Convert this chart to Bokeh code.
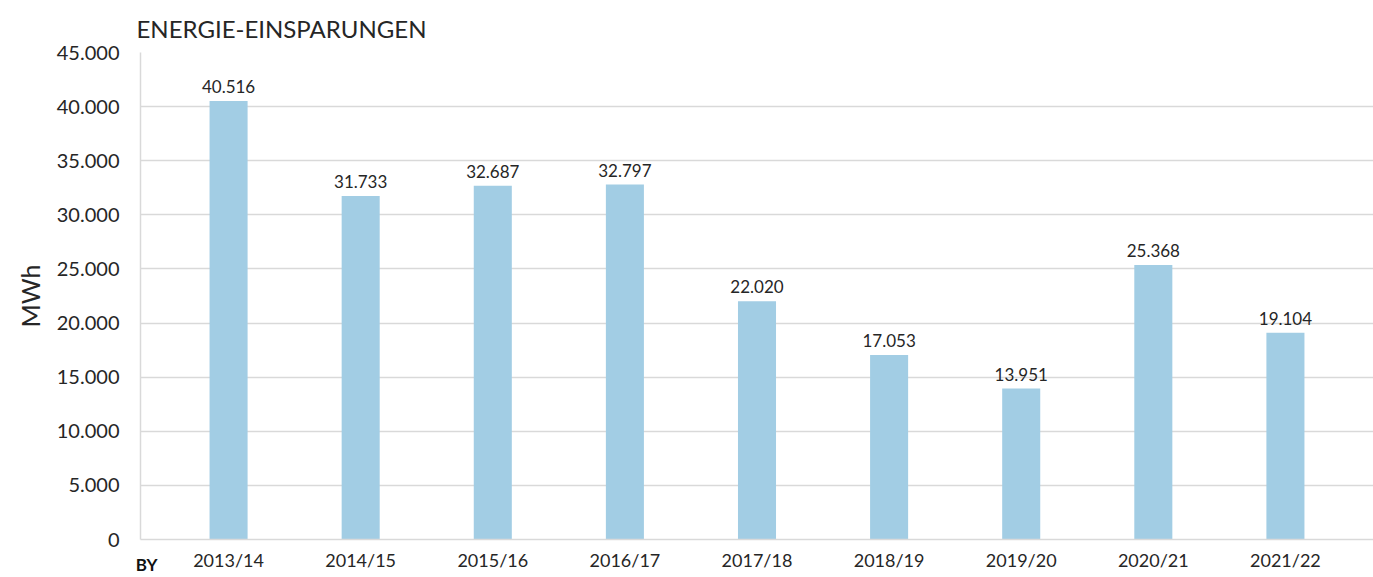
from bokeh.plotting import figure
from bokeh.models import (FactorRange, Range1d, FixedTicker, ColumnDataSource)
from bokeh.core.properties import value
from bokeh.embed import file_html
from bokeh.resources import INLINE

# ---- data ----
years = ["2013/14", "2014/15", "2015/16", "2016/17", "2017/18",
         "2018/19", "2019/20", "2020/21", "2021/22"]
savings = [40516, 31733, 32687, 32797, 22020, 17053, 13951, 25368, 19104]
y_ticks = [0, 5000, 10000, 15000, 20000, 25000, 30000, 35000, 40000, 45000]
y_tick_labels = ["0", "5.000", "10.000", "15.000", "20.000", "25.000",
                 "30.000", "35.000", "40.000", "45.000"]
title_text = "ENERGIE-EINSPARUNGEN"
y_title = "MWh"
base_year_label = "BY"

FONT = "Lato"
TXT = "#262626"
GRID = "#d9d9d9"
BAR = "#a2cde4"

labels = [f"{v:,}".replace(",", ".") for v in savings]
src = ColumnDataSource(dict(x=years, y=savings, lab=labels))

p = figure(width=1373, height=577, output_backend="svg", toolbar_location=None,
           x_range=FactorRange(*years, range_padding=1/6, range_padding_units="absolute"),
           y_range=Range1d(0, 45000),
           min_border_left=140, min_border_right=0, min_border_top=52,
           min_border_bottom=37)
p.outline_line_color = None
p.background_fill_color = "white"

p.vbar(x="x", top="y", width=0.288, source=src, color=BAR, line_color=None)
p.text(x="x", y="y", text="lab", source=src, y_offset=-8,
       text_align="center", text_baseline="bottom",
       text_font=value(FONT), text_font_size="17px", text_color=TXT)

# title
p.title.text = title_text
p.title.text_font = FONT
p.title.text_font_size = "24px"
p.title.text_font_style = "normal"
p.title.text_color = TXT
p.title.align = "left"
p.title.offset = -4
p.title.vertical_align = "top"
p.title.standoff = 16
p.title.text_line_height = 0.75

# y axis
p.yaxis.ticker = FixedTicker(ticks=y_ticks)
p.yaxis.major_label_overrides = {t: s for t, s in zip(y_ticks, y_tick_labels)}
p.yaxis.major_tick_line_color = None
p.yaxis.minor_tick_line_color = None
p.yaxis.axis_line_color = GRID
p.yaxis.axis_line_width = 1.5
p.yaxis.major_label_standoff = 15
p.yaxis.major_label_text_font = FONT
p.yaxis.major_label_text_font_size = "20px"
p.yaxis.major_label_text_color = TXT
p.yaxis.axis_label = y_title
p.yaxis.axis_label_text_font = FONT
p.yaxis.axis_label_text_font_size = "25px"
p.yaxis.axis_label_text_font_style = "normal"
p.yaxis.axis_label_text_color = TXT
p.yaxis.axis_label_standoff = 9

# x axis
p.xaxis.major_tick_line_color = None
p.xaxis.minor_tick_line_color = None
p.xaxis.axis_line_color = GRID
p.xaxis.axis_line_width = 1.5
p.xaxis.major_label_standoff = 3
p.xaxis.major_label_text_font = FONT
p.xaxis.major_label_text_font_size = "18px"
p.xaxis.major_label_text_color = TXT
p.xaxis.axis_label = "\u00a0\u00a0\u00a0" + base_year_label
p.xaxis.axis_label_align = "start"
p.xaxis.axis_label_standoff = -20
p.xaxis.axis_label_text_font = FONT
p.xaxis.axis_label_text_font_size = "17px"
p.xaxis.axis_label_text_font_style = "bold"
p.xaxis.axis_label_text_color = "#111111"

p.xgrid.grid_line_color = None
p.ygrid.grid_line_color = GRID
p.ygrid.grid_line_width = 1.5

open("out.html", "w").write(file_html(p, INLINE))
